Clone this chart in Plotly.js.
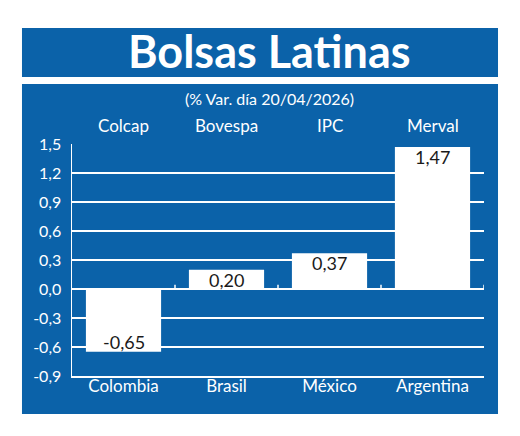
<!DOCTYPE html>
<html>
<head>
<meta charset="utf-8">
<script src="https://cdn.plot.ly/plotly-3.0.1.min.js"></script>
<style>
html,body{margin:0;padding:0;background:#fff;}
#chart{width:520px;height:436px;}
</style>
</head>
<body>
<div id="chart"></div>
<script>
// Data
const categories = ['Colombia', 'Brasil', 'México', 'Argentina'];
const indexNames = ['Colcap', 'Bovespa', 'IPC', 'Merval'];
const values = [-0.65, 0.20, 0.37, 1.47];
const valueLabels = ['-0,65', '0,20', '0,37', '1,47'];
const yTickVals = [-0.9, -0.6, -0.3, 0, 0.3, 0.6, 0.9, 1.2, 1.5];
const yTickText = ['-0,9', '-0,6', '-0,3', '0,0', '0,3', '0,6', '0,9', '1,2', '1,5'];
const titleText = 'Bolsas Latinas';
const subtitleText = '(% Var. día 20/04/2026)';

const BLUE = '#0b62a9';
const FONT = 'Lato, "Open Sans", sans-serif';

const trace = {
  type: 'bar',
  x: categories,
  y: values,
  marker: {color: '#ffffff', line: {width: 0}},
  width: 0.73,
  hoverinfo: 'none'
};

const annotations = indexNames.map((name, i) => ({
  x: categories[i], xref: 'x', y: 1.078, yref: 'paper',
  text: name, showarrow: false, yanchor: 'middle',
  font: {family: FONT, size: 17, color: '#ffffff'}
}));
values.forEach((v, i) => annotations.push({
  x: categories[i], xref: 'x', y: v, yref: 'y',
  text: valueLabels[i], showarrow: false,
  yanchor: v >= 0 ? 'top' : 'bottom', yshift: v >= 0 ? 3 : -3,
  font: {family: FONT, size: 18, color: '#1a1a1a'}
}));
annotations.push({
  x: 0.48, xref: 'paper', y: 1.40, yref: 'paper', text: '<b>' + titleText + '</b>',
  showarrow: false, yanchor: 'middle',
  font: {family: FONT, size: 45, color: '#ffffff'}
});
annotations.push({
  x: 0.48, xref: 'paper', y: 1.198, yref: 'paper', text: subtitleText,
  showarrow: false, yanchor: 'middle',
  font: {family: FONT, size: 16, color: '#ffffff'}
});

const shapes = [
  {type: 'rect', xref: 'paper', yref: 'paper', x0: -0.1214, x1: 1.034, y0: 1.2888, y1: 1.5,
   fillcolor: BLUE, line: {width: 0}, layer: 'below'},
  {type: 'rect', xref: 'paper', yref: 'paper', x0: -0.1214, x1: 1.034, y0: -0.1638, y1: 1.2586,
   fillcolor: BLUE, line: {width: 0}, layer: 'below'}
];
[0.5, 1.5, 2.5, 3.5].forEach(b => shapes.push({
  type: 'line', xref: 'x', yref: 'y', x0: b, x1: b, y0: 0, y1: 0.045,
  line: {color: '#ffffff', width: 1.5}, layer: 'below'
}));

const layout = {
  width: 520, height: 436,
  margin: {l: 72, r: 36, t: 144, b: 60, pad: 0},
  paper_bgcolor: '#ffffff',
  plot_bgcolor: 'rgba(0,0,0,0)',
  showlegend: false,
  xaxis: {
    type: 'category', range: [-0.5, 3.5], fixedrange: true,
    showgrid: false, zeroline: false,
    showline: true, linecolor: '#ffffff', linewidth: 1.5,
    ticks: '', ticklen: 0, ticklabelstandoff: -6,
    tickfont: {family: FONT, size: 17, color: '#ffffff'}
  },
  yaxis: {
    range: [-0.9, 1.5], fixedrange: true,
    tickvals: yTickVals, ticktext: yTickText,
    showgrid: true, gridcolor: '#ffffff', gridwidth: 1.5,
    zeroline: true, zerolinecolor: '#ffffff', zerolinewidth: 1.5,
    showline: true, linecolor: '#ffffff', linewidth: 1.5,
    ticks: '', ticklabelstandoff: 6,
    tickfont: {family: FONT, size: 16, color: '#ffffff'},
    layer: 'below traces'
  },
  shapes: shapes,
  annotations: annotations
};

Plotly.newPlot('chart', [trace], layout, {staticPlot: true, displayModeBar: false});
</script>
</body>
</html>
